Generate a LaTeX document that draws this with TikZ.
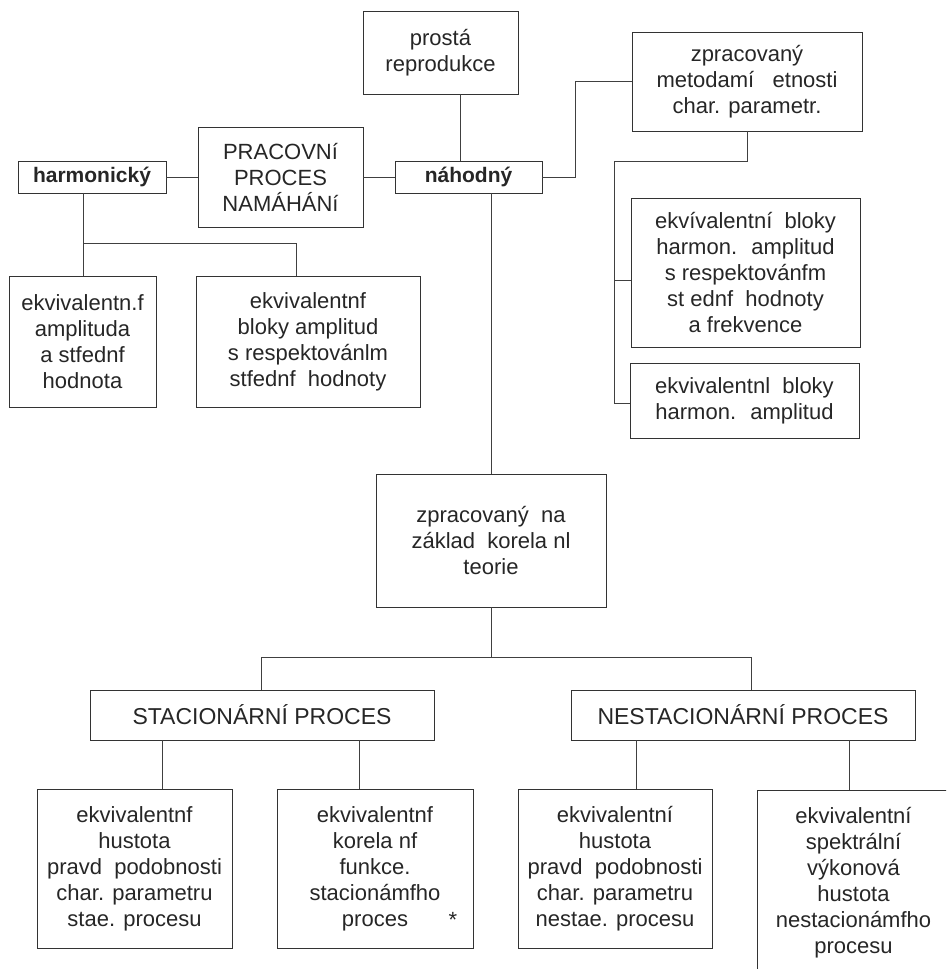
\documentclass[tikz,border=0pt]{standalone}
\usepackage{fontspec}
\setmainfont{Liberation Sans}
\tikzset{
  box/.style={draw=black!80, line width=0.7pt, inner sep=0pt, outer sep=0pt,
    align=center, text=black!85, font=\fontsize{16.5}{19.5}\selectfont},
  lbl/.style={font=\bfseries\fontsize{15.75}{19}\selectfont},
  hd/.style={font=\fontsize{17.25}{20}\selectfont},
  conn/.style={draw=black!75, line width=0.7pt}
}
% \mybox{name}{x1}{y1}{x2}{y2}{extra style}{text}  (pixel units)
\newcommand{\mybox}[7]{%
  \node[box, #6, minimum width={(#4-#2)*0.75pt}, minimum height={(#5-#3)*0.75pt}]
    (#1) at ({(#2+#4)/2},{(#3+#5)/2}) {#7};}
\begin{document}
\begin{tikzpicture}[x=0.75pt,y=-0.75pt]
\useasboundingbox (0,0) rectangle (946,969);
\clip (0,0) rectangle (946,969);

% top row
\mybox{prosta}{363}{11}{518}{94}{}{prostá\\reprodukce}
\mybox{prac}{198}{127}{363}{227}{}{PRACOVNí\\PROCES\\NAMÁHÁNí}
\mybox{harm}{18}{161}{166}{193}{lbl}{harmonický}
\mybox{nah}{395}{161}{542}{193}{lbl}{náhodný}
\mybox{zprac}{632}{32}{862}{131}{}{zpracovaný\\metodamí~~ etnosti\\char. parametr.}

% right column
\mybox{ekvA}{631}{198}{860}{347}{}{ekvívalentní~ bloky\\harmon.~ amplitud\\s respektovánfm\\st ednf~ hodnoty\\a frekvence}
\mybox{ekvB}{630}{363}{859}{438}{}{ekvivalentnl~ bloky\\harmon.~ amplitud}

% left children
\mybox{ekv1}{9}{276}{156}{407}{}{ekvivalentn.f\\amplituda\\a stfednf\\hodnota}
\mybox{ekv2}{196}{276}{420}{407}{}{ekvivalentnf\\bloky amplitud\\s respektovánlm\\stfednf~ hodnoty}

% middle
\mybox{korel}{376}{474}{606}{607}{}{zpracovaný~ na\\základ~ korela nl\\teorie}

% process boxes
\mybox{stac}{90}{690}{434}{740}{hd}{STACIONÁRNÍ PROCES}
\mybox{nestac}{571}{690}{915}{740}{hd}{NESTACIONÁRNÍ PROCES}

% bottom row
\mybox{s1}{37}{789}{232}{948}{}{ekvivalentnf\\hustota\\pravd~ podobnosti\\char. parametru\\stae. procesu}
\mybox{s2}{277}{789}{473}{948}{}{ekvivalentnf\\korela nf\\funkce.\\stacionámfho\\proces}
\mybox{n1}{518}{789}{712}{948}{}{ekvivalentní\\hustota\\pravd~ podobnosti\\char. parametru\\nestae. procesu}
\mybox{n2}{757}{790}{950}{975}{}{ekvivalentní\\spektrální\\výkonová\\hustota\\nestacionámfho\\procesu}
\node[text=black!85, font=\fontsize{16.5}{19.5}\selectfont] (ast) at (453,920) {*};

% junction coordinates
\coordinate (cp) at (460,0);
\coordinate (j1) at (575,0);
\coordinate (t1) at (614,161);
\coordinate (t3) at (614,280);
\coordinate (t2) at (614,403);
\coordinate (h1) at (83,243);
\coordinate (h2) at (296,243);
\coordinate (k1) at (261,657);
\coordinate (k2) at (751,657);
\coordinate (b1) at (162,0);
\coordinate (b2) at (359,0);
\coordinate (b3) at (636,0);
\coordinate (b4) at (849,0);

% connectors
\draw[conn] (harm.east) -- (prac.west);
\draw[conn] (prac.east) -- (nah.west);
\draw[conn] (prosta.south -| cp) -- (nah.north -| cp);
\draw[conn] (nah.east) -- (nah.east -| j1) |- (zprac.west);
\draw[conn] (zprac.south) |- (t1) -- (t2) -- (t2 -| ekvB.west);
\draw[conn] (t3) -- (t3 -| ekvA.west);
\draw[conn] (harm.south -| h1) -- (h1) -- (h2) -- (h2 |- ekv2.north);
\draw[conn] (h1) -- (ekv1.north -| h1);
\draw[conn] (nah.south -| korel.north) -- (korel.north);
\draw[conn] (korel.south) -- (korel.south |- k1);
\draw[conn] (k1 |- stac.north) -- (k1) -- (k2) -- (k2 |- nestac.north);
\draw[conn] (stac.south -| b1) -- (s1.north -| b1);
\draw[conn] (stac.south -| b2) -- (s2.north -| b2);
\draw[conn] (nestac.south -| b3) -- (n1.north -| b3);
\draw[conn] (nestac.south -| b4) -- (n2.north -| b4);
\end{tikzpicture}
\end{document}
